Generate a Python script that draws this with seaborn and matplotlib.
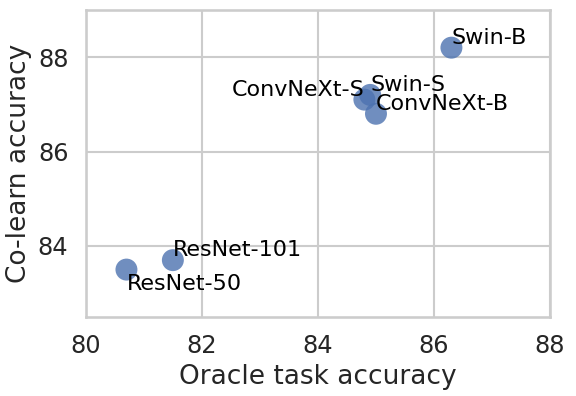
import pandas as pd
import matplotlib.pyplot as plt
import seaborn as sns

models = ['ResNet-50', 'ResNet-101', 'ConvNeXt-S', 'ConvNeXt-B', 'Swin-S', 'Swin-B']
oracle_acc = [80.7, 81.5, 84.8, 85.0, 84.9, 86.3]
colearn_acc = [83.5, 83.7, 87.1, 86.8, 87.2, 88.2]

sns.set_theme(style='whitegrid', context='talk', font_scale=1.055)

df = pd.DataFrame({'model': models, 'oracle': oracle_acc, 'colearn': colearn_acc})

fig = plt.figure(figsize=(5.76, 3.96), dpi=100)
ax = fig.add_axes([0.149, 0.2, 0.806, 0.775])
sns.scatterplot(x='oracle', y='colearn', data=df, s=250, alpha=0.8,
                color='#4C72B0', edgecolor='none', ax=ax)

for m, x, y in zip(df['model'], df['oracle'], df['colearn']):
    if m == 'ConvNeXt-S':
        ax.text(x, y, m, ha='right', va='bottom', fontsize=16, color='black')
    elif m == 'ResNet-50':
        ax.text(x, y - 0.1, m, ha='left', va='top', fontsize=16, color='black')
    else:
        ax.text(x, y, m, ha='left', va='bottom', fontsize=16, color='black')

ax.set_xlim(80, 88)
ax.set_ylim(82.5, 89)
ax.set_xticks([80, 82, 84, 86, 88])
ax.set_yticks([84, 86, 88])
ax.set_xlabel('Oracle task accuracy')
ax.set_ylabel('Co-learn accuracy')
plt.savefig('out.png')
